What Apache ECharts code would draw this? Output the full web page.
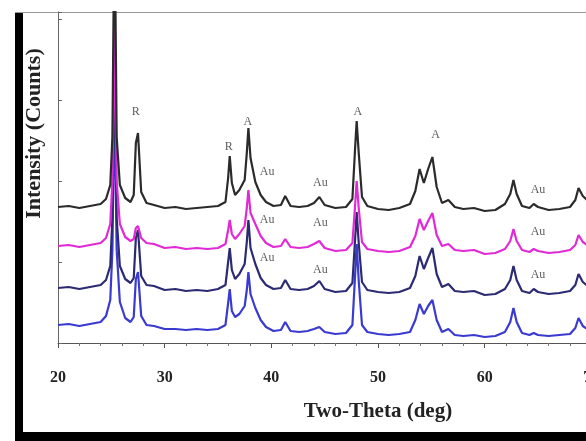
<!DOCTYPE html>
<html>
<head>
<meta charset="utf-8">
<script src="https://cdn.jsdelivr.net/npm/echarts@6/dist/echarts.min.js"></script>
<style>
  html, body { margin: 0; padding: 0; background: #fff; }
  #chart { width: 586px; height: 441px; }
</style>
</head>
<body>
<div id="chart"></div>
<script>
// two-theta positions (deg)
var twoTheta = [20, 21, 22, 23, 24, 24.5, 24.9, 25.1, 25.3, 25.5,
  25.8, 26.3, 26.8, 27.1, 27.3, 27.5, 27.8, 28.3, 29, 30,
  31, 32, 33, 34, 35, 35.7, 35.95, 36.1, 36.3, 36.6,
  37.0, 37.5, 37.7, 37.85, 38.05, 38.5, 39.0, 39.5, 40.2, 40.9,
  41.3, 41.8, 42.6, 43.4, 44.0, 44.5, 45.0, 46.0, 47.0, 47.6,
  47.85, 48.0, 48.2, 48.5, 49.0, 50, 51, 52, 53.0, 53.5,
  53.9, 54.3, 54.7, 55.1, 55.5, 56.0, 56.6, 57.2, 58, 59,
  60, 61, 61.9, 62.4, 62.7, 63.0, 63.5, 64.2, 64.6, 65.0,
  66, 67, 68.0, 68.5, 68.8, 69.2, 70]

// intensities as plotted (traces already offset)
var blackTrace = [136, 137, 135, 137, 139, 144, 158, 206, 436, 206,
  158, 145, 141, 148, 200, 210, 151, 140, 138, 135,
  136, 134, 135, 136, 137, 141, 165, 187, 160, 148,
  153, 163, 190, 215, 185, 161, 148, 141, 137, 138,
  147, 137, 136, 137, 140, 146, 138, 135, 136, 144,
  194, 222, 189, 146, 137, 134, 133, 135, 139, 152,
  174, 160, 174, 186, 156, 140, 143, 136, 134, 135,
  132, 133, 139, 149, 163, 149, 137, 135, 139, 136,
  133, 134, 136, 143, 155, 147, 139]
var magentaTrace = [97, 98, 96, 98, 100, 105, 119, 162, 317, 162,
  119, 106, 102, 104, 115, 117, 105, 100, 99, 95,
  96, 94, 95, 94, 95, 99, 113, 123, 109, 104,
  109, 117, 135, 153, 130, 119, 107, 100, 96, 97,
  104, 96, 95, 96, 99, 102, 95, 92, 93, 100,
  137, 162, 134, 101, 94, 92, 91, 92, 96, 107,
  124, 113, 122, 130, 108, 97, 99, 93, 92, 93,
  89, 90, 94, 102, 114, 102, 93, 91, 94, 92,
  90, 91, 93, 98, 108, 101, 95]
var navyTrace = [55, 56, 54, 56, 58, 63, 77, 125, 290, 125,
  77, 64, 60, 65, 105, 113, 67, 58, 57, 53,
  54, 52, 53, 52, 54, 58, 81, 95, 73, 64,
  69, 79, 101, 123, 95, 79, 65, 58, 54, 55,
  63, 54, 53, 54, 57, 62, 54, 51, 52, 60,
  103, 131, 99, 61, 53, 51, 50, 51, 55, 67,
  87, 74, 85, 95, 69, 56, 59, 52, 51, 52,
  48, 49, 54, 63, 77, 63, 52, 50, 54, 51,
  49, 50, 52, 58, 69, 61, 54]
var blueTrace = [18, 19, 17, 19, 21, 27, 43, 93, 248, 93,
  41, 25, 21, 26, 64, 71, 27, 18, 17, 14,
  14, 13, 14, 13, 14, 18, 40, 54, 32, 26,
  29, 37, 53, 71, 49, 35, 23, 16, 12, 13,
  21, 12, 11, 12, 14, 16, 11, 9, 10, 18,
  67, 99, 61, 18, 11, 9, 8, 9, 11, 23,
  39, 29, 37, 43, 23, 11, 14, 8, 7, 8,
  6, 7, 11, 21, 35, 21, 10, 8, 10, 8,
  7, 8, 9, 15, 25, 17, 11]

// phase labels (R = rutile, A = anatase, Au = gold)
var annText = ['R', 'R', 'A', 'Au', 'Au', 'Au', 'Au', 'Au', 'Au', 'A', 'A', 'Au', 'Au', 'Au']
var annX = [27.3, 36.0, 37.8, 39.6, 39.6, 39.6, 44.6, 44.6, 44.6, 48.1, 55.4, 65.0, 65.0, 65.0]
var annY = [231, 196, 221, 171, 123, 85, 160, 120, 73, 231, 208, 153, 111, 68]

function pairs(ys) {
  return twoTheta.map(function (x, i) { return [x, ys[i]] })
}

var chart = echarts.init(document.getElementById('chart'))
var serif = 'Liberation Serif'

var traceDefs = [
  { name: 'blue', color: '#3a3ad0', data: blueTrace },
  { name: 'navy', color: '#2c2a72', data: navyTrace },
  { name: 'magenta', color: '#e02ad6', data: magentaTrace },
  { name: 'black', color: '#2b2b2b', data: blackTrace }
]

var series = traceDefs.map(function (t) {
  return {
    name: t.name,
    type: 'line',
    data: pairs(t.data),
    showSymbol: false,
    symbol: 'none',
    lineStyle: { color: t.color, width: 2.2 },
    itemStyle: { color: t.color },
    clip: true,
    animation: false
  }
})

series.push({
  type: 'scatter',
  symbolSize: 0,
  data: annX.map(function (x, i) { return [x, annY[i], annText[i]] }),
  label: {
    show: true,
    position: 'inside',
    formatter: function (p) { return p.value[2] },
    fontFamily: serif,
    fontSize: 12,
    color: '#333'
  },
  z: 5,
  animation: false
})

chart.setOption({
  backgroundColor: '#fff',
  grid: { left: 58, right: -112, top: 12, bottom: 98, outerBoundsMode: 'none' },
  xAxis: {
    type: 'value',
    min: 20,
    max: 80,
    interval: 10,
    name: 'Two-Theta (deg)',
    nameLocation: 'middle',
    nameGap: 58,
    nameTextStyle: { fontFamily: serif, fontWeight: 'bold', fontSize: 21, color: '#222' },
    axisLine: { lineStyle: { color: '#555', width: 1 } },
    axisTick: { show: true, length: 5, lineStyle: { color: '#555' } },
    minorTick: { show: true, splitNumber: 5, length: 3, lineStyle: { color: '#777' } },
    splitLine: { show: false },
    axisLabel: {
      margin: 27,
      fontFamily: serif,
      fontWeight: 'bold',
      fontSize: 16,
      color: '#222'
    }
  },
  yAxis: {
    type: 'value',
    min: 0,
    max: 331,
    interval: 81,
    name: 'Intensity (Counts)',
    nameLocation: 'middle',
    nameGap: 13,
    nameTextStyle: { fontFamily: serif, fontWeight: 'bold', fontSize: 22, color: '#222', padding: [0, 0, 0, 88] },
    axisLine: { show: true, lineStyle: { color: '#666', width: 1 } },
    axisTick: { show: true, inside: true, length: 4, lineStyle: { color: '#666' } },
    axisLabel: { show: false },
    splitLine: { show: false }
  },
  graphic: [
    { type: 'rect', left: 15, top: 12, shape: { width: 8, height: 429 }, style: { fill: '#000' } },
    { type: 'rect', left: 15, top: 432, shape: { width: 571, height: 9 }, style: { fill: '#000' } },
    { type: 'rect', left: 15, top: 12, shape: { width: 571, height: 1 }, style: { fill: '#999' } }
  ],
  series: series
})
</script>
</body>
</html>
